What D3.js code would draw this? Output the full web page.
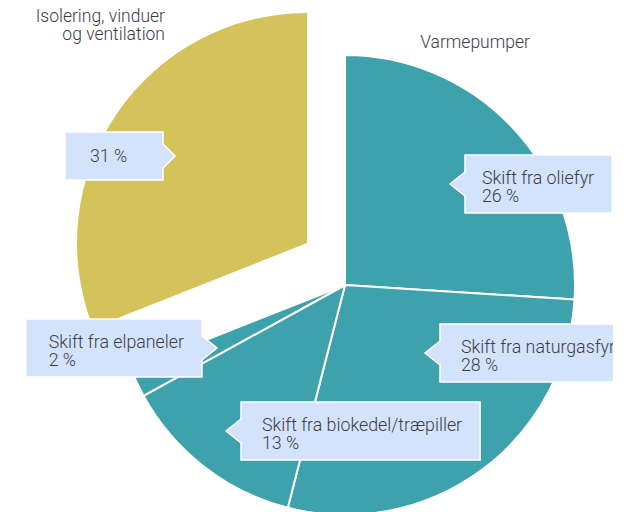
<!DOCTYPE html>
<html>
  <head>
    <meta charset="utf-8" />
    <title>varmepumper-pie</title>
    <style>
      body { margin: 0; background: #ffffff; }
      text { font-family: Roboto, "Noto Sans", sans-serif; font-weight: 300; fill: #3c3c48; }
    </style>
  </head>
  <body>
    <svg width="626" height="512" id="mainsvg"></svg>
    <script src="https://cdn.jsdelivr.net/npm/d3@7"></script>
    <script>
      // data
      const categories = ["Skift fra oliefyr", "Skift fra naturgasfyr", "Skift fra biokedel/træpiller", "Skift fra elpaneler", "Isolering, vinduer og ventilation"];
      const groups = ["Varmepumper", "Varmepumper", "Varmepumper", "Varmepumper", "Isolering"];
      const values = [26, 28, 13, 2, 31];

      const svg = d3.select("#mainsvg");
      const cx = 345, cy = 285, radius = 230;
      const fontSize = "17.8px";
      const colors = { Varmepumper: "#3ea2ad", Isolering: "#d4c35b" };

      const data = categories.map((c, i) => ({ name: c, group: groups[i], value: values[i] }));

      const pie = d3.pie().sort(null).value((d) => d.value);
      const arc = d3.arc().innerRadius(0).outerRadius(radius);
      const arcs = pie(data);

      // isolering slice is pulled away from the rest
      const offset = (d) => (d.data.group === "Isolering" ? [-38, -42] : [0, 0]);

      const g = svg.append("g").attr("transform", `translate(${cx}, ${cy})`);
      g.selectAll("path.slice")
        .data(arcs)
        .join("path")
        .attr("class", "slice")
        .attr("transform", (d) => `translate(${offset(d)})`)
        .attr("d", arc)
        .attr("fill", (d) => colors[d.data.group])
        .attr("stroke", (d) => (d.data.group === "Isolering" ? "none" : "#ffffff"))
        .attr("stroke-width", 2)
        .attr("stroke-linejoin", "round");

      // group titles
      svg.append("text").attr("x", 475).attr("y", 48).attr("text-anchor", "middle")
        .style("font-size", "17.5px").text("Varmepumper");
      const iso = svg.append("text").attr("x", 165).attr("y", 22).attr("text-anchor", "end").style("font-size", "17.5px");
      iso.append("tspan").attr("x", 165).text("Isolering, vinduer");
      iso.append("tspan").attr("x", 165).attr("dy", 18).text("og ventilation");

      // the chart area cuts the callouts off on the right
      svg.append("clipPath").attr("id", "plotclip")
        .append("rect").attr("x", 0).attr("y", 0).attr("width", 613).attr("height", 512);
      const labels = svg.append("g").attr("clip-path", "url(#plotclip)");

      // callout layout: tip offset from pie centre, which side the arrow is on
      const callouts = [
        { dx: 105, dy: -101, side: "left", lines: [categories[0], values[0] + " %"], padL: 17 },
        { dx: 80, dy: 68, side: "left", lines: [categories[1], values[1] + " %"] },
        { dx: -119, dy: 146, side: "left", lines: [categories[2], values[2] + " %"] },
        { dx: -128, dy: 63, side: "right", lines: [categories[3], values[3] + " %"], padL: 23 },
        { dx: -170, dy: -129, side: "right", lines: [values[4] + " %"], minW: 98, arrow: 12, padL: 25 },
      ];

      const arrowHalf = 12, padR = 18, lineH = 17.5;

      callouts.forEach((c) => {
        const tx = cx + c.dx, ty = cy + c.dy;
        const arrowLen = c.arrow || 15;
        const padL = c.padL || 21;
        const lab = labels.append("g");
        const path = lab.append("path");
        const txt = lab.append("text").style("font-size", fontSize);
        c.lines.forEach((l) => txt.append("tspan").text(l));
        const tw = d3.max(txt.selectAll("tspan").nodes(), (n) => n.getComputedTextLength());
        const boxW = Math.max(tw + padL + padR, c.minW || 0);
        const boxH = c.lines.length > 1 ? 58 : 48;
        const y0 = ty - boxH / 2, y1 = ty + boxH / 2;
        let x0, x1, pts;
        if (c.side === "left") {
          x0 = tx + arrowLen; x1 = x0 + boxW;
          pts = [[x0, y0], [x1, y0], [x1, y1], [x0, y1], [x0, ty + arrowHalf], [tx, ty], [x0, ty - arrowHalf]];
        } else {
          x1 = tx - arrowLen; x0 = x1 - boxW;
          pts = [[x0, y0], [x1, y0], [x1, ty - arrowHalf], [tx, ty], [x1, ty + arrowHalf], [x1, y1], [x0, y1]];
        }
        path.attr("d", d3.line()(pts) + "Z")
          .attr("fill", "#d4e3fc")
          .attr("stroke", "#ffffff")
          .attr("stroke-width", 1.5);
        const baseY = c.lines.length > 1 ? ty : ty + 6;
        txt.selectAll("tspan")
          .attr("x", x0 + padL)
          .attr("y", (d, i) => baseY + i * lineH);
      });
    </script>
  </body>
</html>
